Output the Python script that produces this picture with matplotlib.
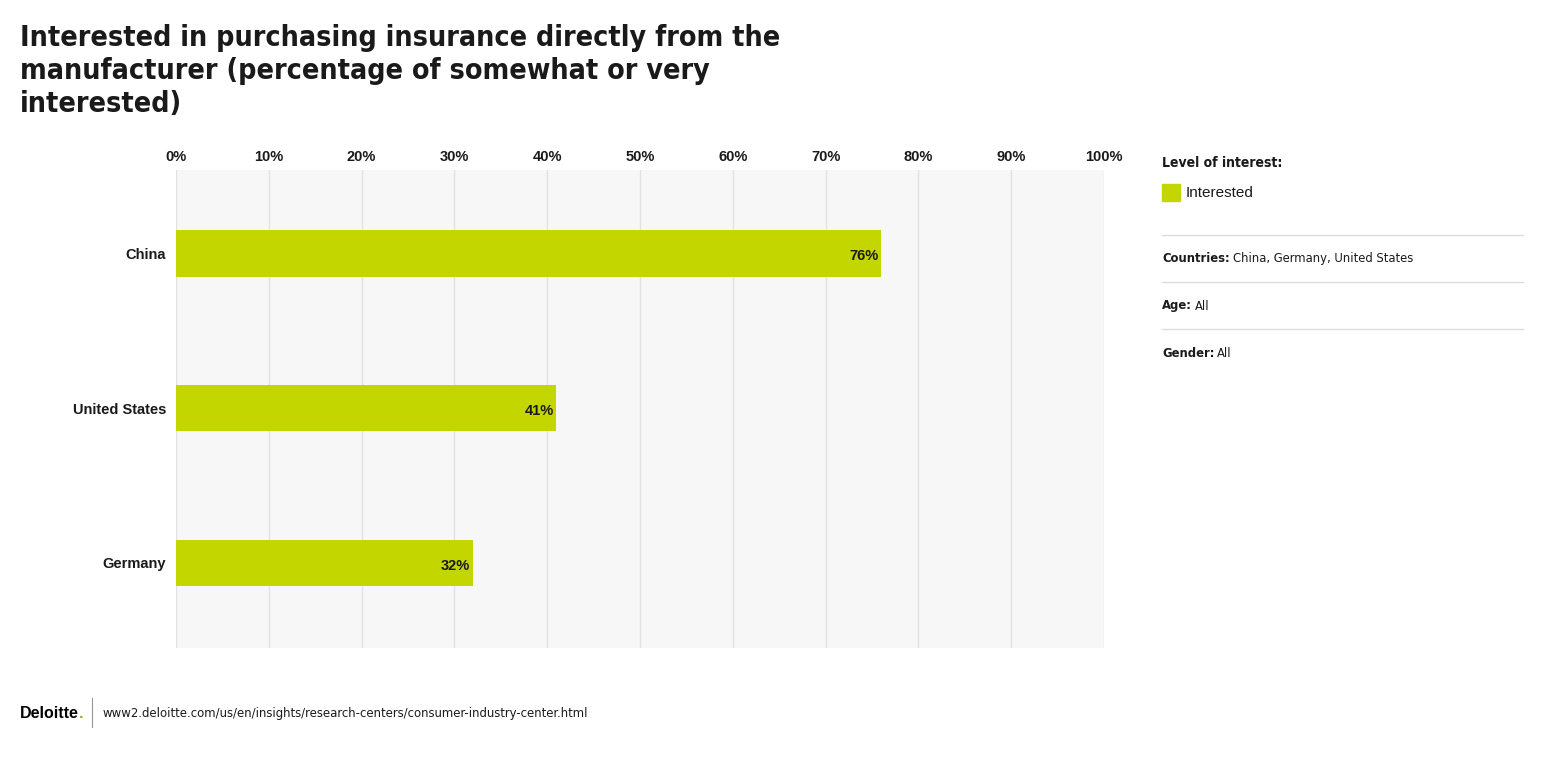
import matplotlib.pyplot as plt
from matplotlib.patches import Rectangle
from matplotlib.lines import Line2D

countries = ['China', 'United States', 'Germany']
interested = [76, 41, 32]
ticks = [0, 10, 20, 30, 40, 50, 60, 70, 80, 90, 100]
tick_labels = [f'{t}%' for t in ticks]

green = '#c4d600'
dark = '#1a1a1a'

fig = plt.figure(figsize=(15.44, 7.77), dpi=100)
ax = fig.add_axes([176 / 1544, 1 - 648 / 777, 928 / 1544, 478 / 777])
ax.set_facecolor('#f7f7f7')

ypos = list(range(len(countries)))
bars = ax.barh(ypos, interested, height=0.30, color=green, zorder=3)
for y, v in zip(ypos, interested):
    ax.annotate(f'{v}%', (v, y), xytext=(-2, -2), textcoords='offset points',
                ha='right', va='center', fontsize=10.5, fontweight='bold',
                color=dark, family='Liberation Sans', zorder=4)

ax.set_xlim(0, 100)
ax.set_ylim(2.55, -0.54)
ax.set_xticks(ticks)
ax.set_xticklabels(tick_labels, family='Liberation Sans', fontweight='bold',
                   fontsize=10.5, color=dark)
ax.xaxis.tick_top()
ax.tick_params(axis='x', length=0, pad=4)
ax.set_yticks(ypos)
ax.set_yticklabels(countries, family='Liberation Sans', fontweight='bold',
                   fontsize=10.5, color=dark)
ax.tick_params(axis='y', length=0, pad=7)
ax.grid(axis='x', color='#e2e2e2', linewidth=1, zorder=0)
for s in ax.spines.values():
    s.set_visible(False)

# title
fig.text(20 / 1544, 1 - 24 / 777,
         'Interested in purchasing insurance directly from the\n'
         'manufacturer (percentage of somewhat or very\ninterested)',
         ha='left', va='top', fontsize=20.5, fontweight='heavy',
         family='DejaVu Sans', fontstretch='condensed', color=dark,
         linespacing=1.22)

# right side panel
px = 1162 / 1544
cond = dict(family='DejaVu Sans', fontstretch='condensed', color=dark)
fig.text(px, 1 - 163 / 777, 'Level of interest:', ha='left', va='center',
         fontsize=10, fontweight='bold', **cond)
fig.patches.append(Rectangle((px, 1 - 201 / 777), 18 / 1544, 17 / 777,
                             transform=fig.transFigure, color=green))
fig.text(1186 / 1544, 1 - 193 / 777, 'Interested', ha='left', va='center',
         fontsize=11, family='Liberation Sans', color=dark)
for ly in [235, 282, 329]:
    fig.lines.append(Line2D([px, 1523 / 1544], [1 - ly / 777] * 2,
                            transform=fig.transFigure, color='#dcdcdc', lw=1))

filters = [('Countries:', 'China, Germany, United States', 259),
           ('Age:', 'All', 306),
           ('Gender:', 'All', 353)]
for key, val, fy in filters:
    t = fig.text(px, 1 - fy / 777, key, ha='left', va='center', fontsize=9.3,
                 fontweight='bold', **cond)
    fig.canvas.draw()
    bb = t.get_window_extent()
    fig.text(bb.x1 / 1544 + 3 / 1544, 1 - fy / 777, val, ha='left',
             va='center', fontsize=9.3, **cond)

# footer
t = fig.text(20 / 1544, 1 - 713 / 777, 'Deloitte', ha='left', va='center',
             fontsize=11.5, fontweight='bold', family='Liberation Sans', color='black')
fig.canvas.draw()
bb = t.get_window_extent()
fig.text(bb.x1 / 1544, 1 - 713 / 777, '.', ha='left', va='center',
         fontsize=11.5, fontweight='bold', family='Liberation Sans', color='#86bc25')
fig.lines.append(Line2D([92 / 1544] * 2, [1 - 698 / 777, 1 - 727 / 777],
                        transform=fig.transFigure, color='#999999', lw=0.8))
fig.text(103 / 1544, 1 - 713 / 777,
         'www2.deloitte.com/us/en/insights/research-centers/consumer-industry-center.html',
         ha='left', va='center', fontsize=9.4, color=dark,
         family='DejaVu Sans', fontstretch='condensed')

fig.savefig('out.png', dpi=100, facecolor='white')
